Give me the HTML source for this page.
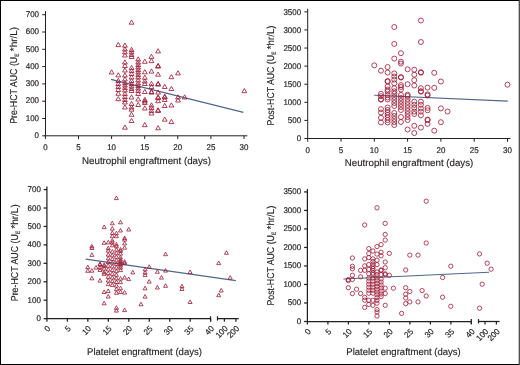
<!DOCTYPE html><html><head><meta charset="utf-8"><style>html,body{margin:0;padding:0;background:#fff;}svg{display:block;will-change:transform;}</style></head><body>
<svg width="520" height="365" viewBox="0 0 520 365">
<rect x="0" y="0" width="520" height="365" fill="#fff"/>
<g stroke="#4f6689" stroke-width="1.1" fill="none">
<line x1="111" y1="79.4" x2="243.4" y2="112.4"/>
<line x1="374.2" y1="95.3" x2="507.8" y2="101.1"/>
<line x1="85.7" y1="259.1" x2="235.8" y2="280.6"/>
<line x1="343.3" y1="279" x2="489" y2="272.3"/>
</g>
<path d="M109.25,74.00L111.65,69.80L114.05,74.00ZM115.88,46.60L118.28,42.40L120.69,46.60ZM115.88,76.90L118.28,72.70L120.69,76.90ZM115.88,82.50L118.28,78.30L120.69,82.50ZM115.88,85.50L118.28,81.30L120.69,85.50ZM115.88,88.50L118.28,84.30L120.69,88.50ZM115.88,91.50L118.28,87.30L120.69,91.50ZM115.88,95.30L118.28,91.10L120.69,95.30ZM115.88,100.70L118.28,96.50L120.69,100.70ZM122.52,47.20L124.92,43.00L127.32,47.20ZM122.52,51.00L124.92,46.80L127.32,51.00ZM122.52,53.80L124.92,49.60L127.32,53.80ZM122.52,57.00L124.92,52.80L127.32,57.00ZM122.52,64.00L124.92,59.80L127.32,64.00ZM122.52,67.50L124.92,63.30L127.32,67.50ZM122.52,72.00L124.92,67.80L127.32,72.00ZM122.52,77.00L124.92,72.80L127.32,77.00ZM122.52,81.00L124.92,76.80L127.32,81.00ZM122.52,84.50L124.92,80.30L127.32,84.50ZM122.52,87.00L124.92,82.80L127.32,87.00ZM122.52,89.50L124.92,85.30L127.32,89.50ZM122.52,92.00L124.92,87.80L127.32,92.00ZM122.52,95.50L124.92,91.30L127.32,95.50ZM122.52,98.50L124.92,94.30L127.32,98.50ZM122.52,101.50L124.92,97.30L127.32,101.50ZM122.52,104.00L124.92,99.80L127.32,104.00ZM122.52,109.00L124.92,104.80L127.32,109.00ZM122.52,129.20L124.92,125.00L127.32,129.20ZM129.16,24.20L131.56,20.00L133.96,24.20ZM129.16,51.50L131.56,47.30L133.96,51.50ZM129.16,53.80L131.56,49.60L133.96,53.80ZM129.16,56.50L131.56,52.30L133.96,56.50ZM129.16,58.50L131.56,54.30L133.96,58.50ZM129.16,69.50L131.56,65.30L133.96,69.50ZM129.16,72.50L131.56,68.30L133.96,72.50ZM129.16,75.50L131.56,71.30L133.96,75.50ZM129.16,79.00L131.56,74.80L133.96,79.00ZM129.16,82.50L131.56,78.30L133.96,82.50ZM129.16,85.50L131.56,81.30L133.96,85.50ZM129.16,88.00L131.56,83.80L133.96,88.00ZM129.16,90.50L131.56,86.30L133.96,90.50ZM129.16,92.50L131.56,88.30L133.96,92.50ZM129.16,99.00L131.56,94.80L133.96,99.00ZM129.16,105.50L131.56,101.30L133.96,105.50ZM129.16,109.00L131.56,104.80L133.96,109.00ZM129.16,111.20L131.56,107.00L133.96,111.20ZM129.16,116.30L131.56,112.10L133.96,116.30ZM129.16,122.50L131.56,118.30L133.96,122.50ZM135.79,61.00L138.19,56.80L140.59,61.00ZM135.79,64.00L138.19,59.80L140.59,64.00ZM135.79,66.50L138.19,62.30L140.59,66.50ZM135.79,69.00L138.19,64.80L140.59,69.00ZM135.79,71.50L138.19,67.30L140.59,71.50ZM135.79,74.00L138.19,69.80L140.59,74.00ZM135.79,76.50L138.19,72.30L140.59,76.50ZM135.79,79.00L138.19,74.80L140.59,79.00ZM135.79,82.00L138.19,77.80L140.59,82.00ZM135.79,85.00L138.19,80.80L140.59,85.00ZM135.79,87.50L138.19,83.30L140.59,87.50ZM135.79,90.00L138.19,85.80L140.59,90.00ZM135.79,92.50L138.19,88.30L140.59,92.50ZM135.79,95.50L138.19,91.30L140.59,95.50ZM135.79,101.00L138.19,96.80L140.59,101.00ZM135.79,106.50L138.19,102.30L140.59,106.50ZM142.42,63.30L144.82,59.10L147.22,63.30ZM142.42,73.80L144.82,69.60L147.22,73.80ZM142.42,79.30L144.82,75.10L147.22,79.30ZM142.42,83.00L144.82,78.80L147.22,83.00ZM142.42,85.50L144.82,81.30L147.22,85.50ZM142.42,93.50L144.82,89.30L147.22,93.50ZM142.42,101.50L144.82,97.30L147.22,101.50ZM142.42,103.00L144.82,98.80L147.22,103.00ZM142.42,104.50L144.82,100.30L147.22,104.50ZM142.42,110.00L144.82,105.80L147.22,110.00ZM142.42,126.70L144.82,122.50L147.22,126.70ZM149.06,58.40L151.46,54.20L153.86,58.40ZM149.06,62.60L151.46,58.40L153.86,62.60ZM149.06,73.10L151.46,68.90L153.86,73.10ZM149.06,85.50L151.46,81.30L153.86,85.50ZM149.06,88.50L151.46,84.30L153.86,88.50ZM149.06,93.50L151.46,89.30L153.86,93.50ZM149.06,94.10L151.46,89.90L153.86,94.10ZM149.06,107.00L151.46,102.80L153.86,107.00ZM149.06,109.50L151.46,105.30L153.86,109.50ZM149.06,112.50L151.46,108.30L153.86,112.50ZM149.06,115.00L151.46,110.80L153.86,115.00ZM155.69,52.90L158.09,48.70L160.50,52.90ZM155.69,67.50L158.09,63.30L160.50,67.50ZM155.69,68.10L158.09,63.90L160.50,68.10ZM155.69,76.20L158.09,72.00L160.50,76.20ZM155.69,85.50L158.09,81.30L160.50,85.50ZM155.69,86.10L158.09,81.90L160.50,86.10ZM155.69,94.10L158.09,89.90L160.50,94.10ZM155.69,99.00L158.09,94.80L160.50,99.00ZM155.69,99.60L158.09,95.40L160.50,99.60ZM155.69,102.70L158.09,98.50L160.50,102.70ZM155.69,111.90L158.09,107.70L160.50,111.90ZM155.69,112.50L158.09,108.30L160.50,112.50ZM155.69,129.80L158.09,125.60L160.50,129.80ZM162.33,88.50L164.73,84.30L167.13,88.50ZM162.33,98.30L164.73,94.10L167.13,98.30ZM162.33,98.90L164.73,94.70L167.13,98.90ZM162.33,101.50L164.73,97.30L167.13,101.50ZM162.33,107.50L164.73,103.30L167.13,107.50ZM162.33,121.20L164.73,117.00L167.13,121.20ZM168.97,78.70L171.37,74.50L173.77,78.70ZM168.97,90.50L171.37,86.30L173.77,90.50ZM168.97,107.00L171.37,102.80L173.77,107.00ZM168.97,123.50L171.37,119.30L173.77,123.50ZM175.60,74.90L178.00,70.70L180.40,74.90ZM175.60,99.00L178.00,94.80L180.40,99.00ZM175.60,102.00L178.00,97.80L180.40,102.00ZM182.23,99.00L184.63,94.80L187.03,99.00ZM241.95,92.70L244.35,88.50L246.75,92.70Z" fill="none" stroke="#9c1b36" stroke-width="0.82" stroke-linejoin="miter"/>
<g fill="none" stroke="#9c1b36" stroke-width="0.82"><circle cx="374.30" cy="65.40" r="2.5"/><circle cx="380.96" cy="70.70" r="2.5"/><circle cx="380.96" cy="93.80" r="2.5"/><circle cx="380.96" cy="96.20" r="2.5"/><circle cx="380.96" cy="99.20" r="2.5"/><circle cx="380.96" cy="99.70" r="2.5"/><circle cx="380.96" cy="109.10" r="2.5"/><circle cx="380.96" cy="112.50" r="2.5"/><circle cx="380.96" cy="117.80" r="2.5"/><circle cx="380.96" cy="122.50" r="2.5"/><circle cx="387.62" cy="67.00" r="2.5"/><circle cx="387.62" cy="72.60" r="2.5"/><circle cx="387.62" cy="81.00" r="2.5"/><circle cx="387.62" cy="81.60" r="2.5"/><circle cx="387.62" cy="86.40" r="2.5"/><circle cx="387.62" cy="89.50" r="2.5"/><circle cx="387.62" cy="91.50" r="2.5"/><circle cx="387.62" cy="95.00" r="2.5"/><circle cx="387.62" cy="97.50" r="2.5"/><circle cx="387.62" cy="99.50" r="2.5"/><circle cx="387.62" cy="107.50" r="2.5"/><circle cx="387.62" cy="110.00" r="2.5"/><circle cx="387.62" cy="112.50" r="2.5"/><circle cx="387.62" cy="115.00" r="2.5"/><circle cx="387.62" cy="117.50" r="2.5"/><circle cx="387.62" cy="120.00" r="2.5"/><circle cx="387.62" cy="122.50" r="2.5"/><circle cx="394.28" cy="27.00" r="2.5"/><circle cx="394.28" cy="43.90" r="2.5"/><circle cx="394.28" cy="58.60" r="2.5"/><circle cx="394.28" cy="73.40" r="2.5"/><circle cx="394.28" cy="76.50" r="2.5"/><circle cx="394.28" cy="79.60" r="2.5"/><circle cx="394.28" cy="83.30" r="2.5"/><circle cx="394.28" cy="88.20" r="2.5"/><circle cx="394.28" cy="91.30" r="2.5"/><circle cx="394.28" cy="93.80" r="2.5"/><circle cx="394.28" cy="97.00" r="2.5"/><circle cx="394.28" cy="100.00" r="2.5"/><circle cx="394.28" cy="103.00" r="2.5"/><circle cx="394.28" cy="106.00" r="2.5"/><circle cx="394.28" cy="113.00" r="2.5"/><circle cx="394.28" cy="116.00" r="2.5"/><circle cx="394.28" cy="119.00" r="2.5"/><circle cx="394.28" cy="122.00" r="2.5"/><circle cx="394.28" cy="125.00" r="2.5"/><circle cx="400.94" cy="53.20" r="2.5"/><circle cx="400.94" cy="61.70" r="2.5"/><circle cx="400.94" cy="63.60" r="2.5"/><circle cx="400.94" cy="77.10" r="2.5"/><circle cx="400.94" cy="77.60" r="2.5"/><circle cx="400.94" cy="85.10" r="2.5"/><circle cx="400.94" cy="87.00" r="2.5"/><circle cx="400.94" cy="89.50" r="2.5"/><circle cx="400.94" cy="95.00" r="2.5"/><circle cx="400.94" cy="98.00" r="2.5"/><circle cx="400.94" cy="101.00" r="2.5"/><circle cx="400.94" cy="104.00" r="2.5"/><circle cx="400.94" cy="107.00" r="2.5"/><circle cx="400.94" cy="110.00" r="2.5"/><circle cx="400.94" cy="117.00" r="2.5"/><circle cx="400.94" cy="122.00" r="2.5"/><circle cx="407.60" cy="69.30" r="2.5"/><circle cx="407.60" cy="84.20" r="2.5"/><circle cx="407.60" cy="94.70" r="2.5"/><circle cx="407.60" cy="96.00" r="2.5"/><circle cx="407.60" cy="99.00" r="2.5"/><circle cx="407.60" cy="102.00" r="2.5"/><circle cx="407.60" cy="105.00" r="2.5"/><circle cx="407.60" cy="108.00" r="2.5"/><circle cx="407.60" cy="111.00" r="2.5"/><circle cx="407.60" cy="114.00" r="2.5"/><circle cx="407.60" cy="117.00" r="2.5"/><circle cx="407.60" cy="120.00" r="2.5"/><circle cx="407.60" cy="129.50" r="2.5"/><circle cx="414.26" cy="69.70" r="2.5"/><circle cx="414.26" cy="74.70" r="2.5"/><circle cx="414.26" cy="80.20" r="2.5"/><circle cx="414.26" cy="85.50" r="2.5"/><circle cx="414.26" cy="101.70" r="2.5"/><circle cx="414.26" cy="104.80" r="2.5"/><circle cx="414.26" cy="107.90" r="2.5"/><circle cx="414.26" cy="111.60" r="2.5"/><circle cx="414.26" cy="114.00" r="2.5"/><circle cx="414.26" cy="125.80" r="2.5"/><circle cx="414.26" cy="133.00" r="2.5"/><circle cx="420.92" cy="20.50" r="2.5"/><circle cx="420.92" cy="42.00" r="2.5"/><circle cx="420.92" cy="72.20" r="2.5"/><circle cx="420.92" cy="72.70" r="2.5"/><circle cx="420.92" cy="88.20" r="2.5"/><circle cx="420.92" cy="91.20" r="2.5"/><circle cx="420.92" cy="91.70" r="2.5"/><circle cx="420.92" cy="101.70" r="2.5"/><circle cx="420.92" cy="104.80" r="2.5"/><circle cx="420.92" cy="108.50" r="2.5"/><circle cx="420.92" cy="111.60" r="2.5"/><circle cx="420.92" cy="115.30" r="2.5"/><circle cx="420.92" cy="127.60" r="2.5"/><circle cx="427.58" cy="87.60" r="2.5"/><circle cx="427.58" cy="94.40" r="2.5"/><circle cx="427.58" cy="95.50" r="2.5"/><circle cx="427.58" cy="107.90" r="2.5"/><circle cx="427.58" cy="110.30" r="2.5"/><circle cx="427.58" cy="119.60" r="2.5"/><circle cx="427.58" cy="120.10" r="2.5"/><circle cx="427.58" cy="123.90" r="2.5"/><circle cx="434.24" cy="72.80" r="2.5"/><circle cx="434.24" cy="87.80" r="2.5"/><circle cx="434.24" cy="130.70" r="2.5"/><circle cx="440.90" cy="81.50" r="2.5"/><circle cx="440.90" cy="108.40" r="2.5"/><circle cx="440.90" cy="122.20" r="2.5"/><circle cx="447.56" cy="111.50" r="2.5"/><circle cx="507.50" cy="84.70" r="2.5"/></g>
<path d="M85.75,268.60L87.75,265.00L89.75,268.60ZM85.75,272.30L87.75,268.70L89.75,272.30ZM89.84,247.90L91.84,244.30L93.84,247.90ZM89.84,249.50L91.84,245.90L93.84,249.50ZM89.84,256.40L91.84,252.80L93.84,256.40ZM89.84,272.20L91.84,268.60L93.84,272.20ZM89.84,279.80L91.84,276.20L93.84,279.80ZM93.94,269.10L95.94,265.50L97.94,269.10ZM98.03,265.50L100.03,261.90L102.03,265.50ZM98.03,266.10L100.03,262.50L102.03,266.10ZM98.03,269.10L100.03,265.50L102.03,269.10ZM98.03,271.50L100.03,267.90L102.03,271.50ZM98.03,282.10L100.03,278.50L102.03,282.10ZM102.13,228.60L104.13,225.00L106.13,228.60ZM102.13,244.30L104.13,240.70L106.13,244.30ZM102.13,266.40L104.13,262.80L106.13,266.40ZM102.13,267.70L104.13,264.10L106.13,267.70ZM102.13,270.10L104.13,266.50L106.13,270.10ZM102.13,273.70L104.13,270.10L106.13,273.70ZM102.13,275.40L104.13,271.80L106.13,275.40ZM102.13,293.50L104.13,289.90L106.13,293.50ZM102.13,304.80L104.13,301.20L106.13,304.80ZM106.22,243.90L108.22,240.30L110.22,243.90ZM106.22,249.70L108.22,246.10L110.22,249.70ZM106.22,252.10L108.22,248.50L110.22,252.10ZM106.22,256.10L108.22,252.50L110.22,256.10ZM106.22,259.80L108.22,256.20L110.22,259.80ZM106.22,263.50L108.22,259.90L110.22,263.50ZM106.22,267.20L108.22,263.60L110.22,267.20ZM106.22,270.90L108.22,267.30L110.22,270.90ZM106.22,274.60L108.22,271.00L110.22,274.60ZM106.22,278.30L108.22,274.70L110.22,278.30ZM106.22,282.00L108.22,278.40L110.22,282.00ZM106.22,285.70L108.22,282.10L110.22,285.70ZM106.22,292.60L108.22,289.00L110.22,292.60ZM106.22,298.00L108.22,294.40L110.22,298.00ZM110.32,224.80L112.32,221.20L114.32,224.80ZM110.32,230.10L112.32,226.50L114.32,230.10ZM110.32,234.40L112.32,230.80L114.32,234.40ZM110.32,237.70L112.32,234.10L114.32,237.70ZM110.32,242.10L112.32,238.50L114.32,242.10ZM110.32,244.10L112.32,240.50L114.32,244.10ZM110.32,246.80L112.32,243.20L114.32,246.80ZM110.32,253.10L112.32,249.50L114.32,253.10ZM110.32,256.80L112.32,253.20L114.32,256.80ZM110.32,260.50L112.32,256.90L114.32,260.50ZM110.32,264.20L112.32,260.60L114.32,264.20ZM110.32,267.90L112.32,264.30L114.32,267.90ZM110.32,271.60L112.32,268.00L114.32,271.60ZM110.32,275.30L112.32,271.70L114.32,275.30ZM110.32,279.00L112.32,275.40L114.32,279.00ZM110.32,282.70L112.32,279.10L114.32,282.70ZM110.32,286.40L112.32,282.80L114.32,286.40ZM114.41,199.60L116.41,196.00L118.41,199.60ZM114.41,234.80L116.41,231.20L118.41,234.80ZM114.41,237.70L116.41,234.10L118.41,237.70ZM114.41,245.90L116.41,242.30L118.41,245.90ZM114.41,247.80L116.41,244.20L118.41,247.80ZM114.41,251.10L116.41,247.50L118.41,251.10ZM114.41,254.70L116.41,251.10L118.41,254.70ZM114.41,258.30L116.41,254.70L118.41,258.30ZM114.41,261.90L116.41,258.30L118.41,261.90ZM114.41,265.50L116.41,261.90L118.41,265.50ZM114.41,269.10L116.41,265.50L118.41,269.10ZM114.41,272.70L116.41,269.10L118.41,272.70ZM114.41,276.30L116.41,272.70L118.41,276.30ZM114.41,279.90L116.41,276.30L118.41,279.90ZM114.41,283.50L116.41,279.90L118.41,283.50ZM114.41,287.10L116.41,283.50L118.41,287.10ZM114.41,290.70L116.41,287.10L118.41,290.70ZM114.41,294.30L116.41,290.70L118.41,294.30ZM114.41,309.30L116.41,305.70L118.41,309.30ZM114.41,312.10L116.41,308.50L118.41,312.10ZM118.51,223.80L120.51,220.20L122.51,223.80ZM118.51,232.00L120.51,228.40L122.51,232.00ZM118.51,251.10L120.51,247.50L122.51,251.10ZM118.51,252.40L120.51,248.80L122.51,252.40ZM118.51,255.10L120.51,251.50L122.51,255.10ZM118.51,258.90L120.51,255.30L122.51,258.90ZM118.51,261.10L120.51,257.50L122.51,261.10ZM118.51,262.60L120.51,259.00L122.51,262.60ZM118.51,264.10L120.51,260.50L122.51,264.10ZM118.51,265.60L120.51,262.00L122.51,265.60ZM118.51,267.10L120.51,263.50L122.51,267.10ZM118.51,269.10L120.51,265.50L122.51,269.10ZM118.51,271.60L120.51,268.00L122.51,271.60ZM118.51,280.10L120.51,276.50L122.51,280.10ZM118.51,283.70L120.51,280.10L122.51,283.70ZM118.51,289.70L120.51,286.10L122.51,289.70ZM118.51,293.50L120.51,289.90L122.51,293.50ZM122.60,239.60L124.60,236.00L126.60,239.60ZM122.60,241.10L124.60,237.50L126.60,241.10ZM122.60,244.90L124.60,241.30L126.60,244.90ZM122.60,249.20L124.60,245.60L126.60,249.20ZM122.60,263.30L124.60,259.70L126.60,263.30ZM122.60,264.70L124.60,261.10L126.60,264.70ZM122.60,279.10L124.60,275.50L126.60,279.10ZM122.60,294.10L124.60,290.50L126.60,294.10ZM122.60,311.60L124.60,308.00L126.60,311.60ZM126.70,231.00L128.70,227.40L130.70,231.00ZM126.70,280.60L128.70,277.00L130.70,280.60ZM130.79,273.90L132.79,270.30L134.79,273.90ZM138.98,305.80L140.98,302.20L142.98,305.80ZM143.08,270.90L145.08,267.30L147.08,270.90ZM143.08,274.10L145.08,270.50L147.08,274.10ZM143.08,276.60L145.08,273.00L147.08,276.60ZM143.08,289.80L145.08,286.20L147.08,289.80ZM143.08,298.10L145.08,294.50L147.08,298.10ZM147.18,268.40L149.18,264.80L151.18,268.40ZM147.18,283.10L149.18,279.50L151.18,283.10ZM155.37,273.30L157.37,269.70L159.37,273.30ZM155.37,289.00L157.37,285.40L159.37,289.00ZM159.46,279.10L161.46,275.50L163.46,279.10ZM163.56,255.70L165.56,252.10L167.56,255.70ZM163.56,272.10L165.56,268.50L167.56,272.10ZM163.56,287.30L165.56,283.70L167.56,287.30ZM179.94,287.80L181.94,284.20L183.94,287.80ZM179.94,290.50L181.94,286.90L183.94,290.50ZM188.12,273.60L190.12,270.00L192.12,273.60ZM188.12,303.50L190.12,299.90L192.12,303.50ZM224.40,254.30L226.40,250.70L228.40,254.30ZM216.70,264.60L218.70,261.00L220.70,264.60ZM228.20,279.20L230.20,275.60L232.20,279.20ZM219.20,292.00L221.20,288.40L223.20,292.00ZM216.70,296.70L218.70,293.10L220.70,296.70Z" fill="none" stroke="#9c1b36" stroke-width="0.8" stroke-linejoin="miter"/>
<g fill="none" stroke="#9c1b36" stroke-width="0.8"><circle cx="348.30" cy="279.50" r="2.15"/><circle cx="348.30" cy="280.60" r="2.15"/><circle cx="348.30" cy="287.70" r="2.15"/><circle cx="352.40" cy="258.00" r="2.15"/><circle cx="352.40" cy="266.30" r="2.15"/><circle cx="352.40" cy="268.80" r="2.15"/><circle cx="352.40" cy="275.30" r="2.15"/><circle cx="352.40" cy="279.50" r="2.15"/><circle cx="352.40" cy="293.60" r="2.15"/><circle cx="356.50" cy="289.20" r="2.15"/><circle cx="360.60" cy="270.40" r="2.15"/><circle cx="360.60" cy="276.80" r="2.15"/><circle cx="360.60" cy="293.50" r="2.15"/><circle cx="364.70" cy="225.00" r="2.15"/><circle cx="364.70" cy="258.90" r="2.15"/><circle cx="364.70" cy="265.90" r="2.15"/><circle cx="364.70" cy="270.30" r="2.15"/><circle cx="364.70" cy="297.40" r="2.15"/><circle cx="364.70" cy="300.20" r="2.15"/><circle cx="364.70" cy="307.40" r="2.15"/><circle cx="368.80" cy="248.60" r="2.15"/><circle cx="368.80" cy="253.60" r="2.15"/><circle cx="368.80" cy="257.60" r="2.15"/><circle cx="368.80" cy="264.60" r="2.15"/><circle cx="368.80" cy="269.40" r="2.15"/><circle cx="368.80" cy="273.80" r="2.15"/><circle cx="368.80" cy="278.10" r="2.15"/><circle cx="368.80" cy="281.20" r="2.15"/><circle cx="368.80" cy="284.20" r="2.15"/><circle cx="368.80" cy="287.20" r="2.15"/><circle cx="368.80" cy="290.20" r="2.15"/><circle cx="368.80" cy="293.20" r="2.15"/><circle cx="368.80" cy="300.30" r="2.15"/><circle cx="368.80" cy="304.40" r="2.15"/><circle cx="372.90" cy="251.00" r="2.15"/><circle cx="372.90" cy="258.90" r="2.15"/><circle cx="372.90" cy="261.50" r="2.15"/><circle cx="372.90" cy="264.20" r="2.15"/><circle cx="372.90" cy="266.80" r="2.15"/><circle cx="372.90" cy="268.50" r="2.15"/><circle cx="372.90" cy="270.30" r="2.15"/><circle cx="372.90" cy="273.00" r="2.15"/><circle cx="372.90" cy="274.60" r="2.15"/><circle cx="372.90" cy="278.10" r="2.15"/><circle cx="372.90" cy="281.20" r="2.15"/><circle cx="372.90" cy="284.20" r="2.15"/><circle cx="372.90" cy="287.20" r="2.15"/><circle cx="372.90" cy="290.20" r="2.15"/><circle cx="372.90" cy="293.20" r="2.15"/><circle cx="372.90" cy="300.30" r="2.15"/><circle cx="372.90" cy="305.30" r="2.15"/><circle cx="377.00" cy="207.80" r="2.15"/><circle cx="377.00" cy="246.60" r="2.15"/><circle cx="377.00" cy="254.10" r="2.15"/><circle cx="377.00" cy="260.20" r="2.15"/><circle cx="377.00" cy="264.60" r="2.15"/><circle cx="377.00" cy="272.00" r="2.15"/><circle cx="377.00" cy="274.60" r="2.15"/><circle cx="377.00" cy="278.00" r="2.15"/><circle cx="377.00" cy="280.80" r="2.15"/><circle cx="377.00" cy="283.60" r="2.15"/><circle cx="377.00" cy="286.40" r="2.15"/><circle cx="377.00" cy="289.20" r="2.15"/><circle cx="377.00" cy="292.00" r="2.15"/><circle cx="377.00" cy="294.80" r="2.15"/><circle cx="377.00" cy="297.60" r="2.15"/><circle cx="377.00" cy="300.40" r="2.15"/><circle cx="377.00" cy="303.20" r="2.15"/><circle cx="377.00" cy="309.60" r="2.15"/><circle cx="377.00" cy="312.00" r="2.15"/><circle cx="377.00" cy="316.00" r="2.15"/><circle cx="381.10" cy="244.60" r="2.15"/><circle cx="381.10" cy="252.30" r="2.15"/><circle cx="381.10" cy="255.80" r="2.15"/><circle cx="381.10" cy="269.90" r="2.15"/><circle cx="381.10" cy="270.50" r="2.15"/><circle cx="381.10" cy="274.60" r="2.15"/><circle cx="381.10" cy="279.00" r="2.15"/><circle cx="381.10" cy="282.00" r="2.15"/><circle cx="381.10" cy="285.00" r="2.15"/><circle cx="381.10" cy="288.00" r="2.15"/><circle cx="381.10" cy="291.00" r="2.15"/><circle cx="381.10" cy="294.00" r="2.15"/><circle cx="381.10" cy="296.60" r="2.15"/><circle cx="385.20" cy="223.40" r="2.15"/><circle cx="385.20" cy="234.40" r="2.15"/><circle cx="385.20" cy="240.10" r="2.15"/><circle cx="385.20" cy="262.00" r="2.15"/><circle cx="385.20" cy="267.70" r="2.15"/><circle cx="385.20" cy="273.80" r="2.15"/><circle cx="385.20" cy="274.60" r="2.15"/><circle cx="385.20" cy="288.20" r="2.15"/><circle cx="385.20" cy="293.50" r="2.15"/><circle cx="385.20" cy="305.30" r="2.15"/><circle cx="389.30" cy="253.40" r="2.15"/><circle cx="389.30" cy="275.30" r="2.15"/><circle cx="393.40" cy="288.20" r="2.15"/><circle cx="401.60" cy="313.40" r="2.15"/><circle cx="405.70" cy="270.00" r="2.15"/><circle cx="405.70" cy="287.70" r="2.15"/><circle cx="405.70" cy="294.20" r="2.15"/><circle cx="405.70" cy="298.00" r="2.15"/><circle cx="405.70" cy="303.60" r="2.15"/><circle cx="409.80" cy="255.10" r="2.15"/><circle cx="409.80" cy="291.50" r="2.15"/><circle cx="409.80" cy="301.90" r="2.15"/><circle cx="418.00" cy="255.10" r="2.15"/><circle cx="418.00" cy="301.90" r="2.15"/><circle cx="422.10" cy="290.60" r="2.15"/><circle cx="426.20" cy="201.20" r="2.15"/><circle cx="426.20" cy="243.00" r="2.15"/><circle cx="426.20" cy="296.00" r="2.15"/><circle cx="442.60" cy="277.50" r="2.15"/><circle cx="442.60" cy="297.20" r="2.15"/><circle cx="450.80" cy="266.20" r="2.15"/><circle cx="450.80" cy="306.30" r="2.15"/><circle cx="479.50" cy="253.90" r="2.15"/><circle cx="487.20" cy="263.20" r="2.15"/><circle cx="491.10" cy="269.20" r="2.15"/><circle cx="482.20" cy="284.20" r="2.15"/><circle cx="479.60" cy="308.20" r="2.15"/></g>
<g font-family="Liberation Sans" font-size="8.3" fill="#231f20" text-rendering="geometricPrecision" stroke="#231f20" stroke-width="0.18">
<line x1="45.5" y1="11.2" x2="45.5" y2="136.3" stroke="#231f20" stroke-width="1.0"/><line x1="42.2" y1="135.80" x2="45.5" y2="135.80" stroke="#231f20" stroke-width="1.0"/><text x="39.0" y="138.05" text-anchor="end" textLength="4.43" lengthAdjust="spacingAndGlyphs">0</text><line x1="42.2" y1="118.50" x2="45.5" y2="118.50" stroke="#231f20" stroke-width="1.0"/><text x="39.0" y="120.75" text-anchor="end" textLength="13.29" lengthAdjust="spacingAndGlyphs">100</text><line x1="42.2" y1="101.20" x2="45.5" y2="101.20" stroke="#231f20" stroke-width="1.0"/><text x="39.0" y="103.45" text-anchor="end" textLength="13.29" lengthAdjust="spacingAndGlyphs">200</text><line x1="42.2" y1="83.90" x2="45.5" y2="83.90" stroke="#231f20" stroke-width="1.0"/><text x="39.0" y="86.15" text-anchor="end" textLength="13.29" lengthAdjust="spacingAndGlyphs">300</text><line x1="42.2" y1="66.60" x2="45.5" y2="66.60" stroke="#231f20" stroke-width="1.0"/><text x="39.0" y="68.85" text-anchor="end" textLength="13.29" lengthAdjust="spacingAndGlyphs">400</text><line x1="42.2" y1="49.30" x2="45.5" y2="49.30" stroke="#231f20" stroke-width="1.0"/><text x="39.0" y="51.55" text-anchor="end" textLength="13.29" lengthAdjust="spacingAndGlyphs">500</text><line x1="42.2" y1="32.00" x2="45.5" y2="32.00" stroke="#231f20" stroke-width="1.0"/><text x="39.0" y="34.25" text-anchor="end" textLength="13.29" lengthAdjust="spacingAndGlyphs">600</text><line x1="42.2" y1="14.70" x2="45.5" y2="14.70" stroke="#231f20" stroke-width="1.0"/><text x="39.0" y="16.95" text-anchor="end" textLength="13.29" lengthAdjust="spacingAndGlyphs">700</text>
<line x1="44.9" y1="135.8" x2="247.3" y2="135.8" stroke="#231f20" stroke-width="1"/><line x1="45.40" y1="135.8" x2="45.40" y2="139.0" stroke="#231f20" stroke-width="1"/><text x="45.40" y="149.95" text-anchor="middle" textLength="4.43" lengthAdjust="spacingAndGlyphs">0</text><line x1="78.50" y1="135.8" x2="78.50" y2="139.0" stroke="#231f20" stroke-width="1"/><text x="78.50" y="149.95" text-anchor="middle" textLength="4.43" lengthAdjust="spacingAndGlyphs">5</text><line x1="111.60" y1="135.8" x2="111.60" y2="139.0" stroke="#231f20" stroke-width="1"/><text x="111.60" y="149.95" text-anchor="middle" textLength="8.86" lengthAdjust="spacingAndGlyphs">10</text><line x1="144.70" y1="135.8" x2="144.70" y2="139.0" stroke="#231f20" stroke-width="1"/><text x="144.70" y="149.95" text-anchor="middle" textLength="8.86" lengthAdjust="spacingAndGlyphs">15</text><line x1="177.80" y1="135.8" x2="177.80" y2="139.0" stroke="#231f20" stroke-width="1"/><text x="177.80" y="149.95" text-anchor="middle" textLength="8.86" lengthAdjust="spacingAndGlyphs">20</text><line x1="210.90" y1="135.8" x2="210.90" y2="139.0" stroke="#231f20" stroke-width="1"/><text x="210.90" y="149.95" text-anchor="middle" textLength="8.86" lengthAdjust="spacingAndGlyphs">25</text><line x1="244.00" y1="135.8" x2="244.00" y2="139.0" stroke="#231f20" stroke-width="1"/><text x="244.00" y="149.95" text-anchor="middle" textLength="8.86" lengthAdjust="spacingAndGlyphs">30</text>
<line x1="307.7" y1="8.7" x2="307.7" y2="139.0" stroke="#231f20" stroke-width="1.0"/><line x1="304.4" y1="138.50" x2="307.7" y2="138.50" stroke="#231f20" stroke-width="1.0"/><text x="301.1" y="141.20" text-anchor="end" textLength="4.43" lengthAdjust="spacingAndGlyphs">0</text><line x1="304.4" y1="120.41" x2="307.7" y2="120.41" stroke="#231f20" stroke-width="1.0"/><text x="301.1" y="123.11" text-anchor="end" textLength="13.29" lengthAdjust="spacingAndGlyphs">500</text><line x1="304.4" y1="102.32" x2="307.7" y2="102.32" stroke="#231f20" stroke-width="1.0"/><text x="301.1" y="105.02" text-anchor="end" textLength="17.72" lengthAdjust="spacingAndGlyphs">1000</text><line x1="304.4" y1="84.23" x2="307.7" y2="84.23" stroke="#231f20" stroke-width="1.0"/><text x="301.1" y="86.93" text-anchor="end" textLength="17.72" lengthAdjust="spacingAndGlyphs">1500</text><line x1="304.4" y1="66.14" x2="307.7" y2="66.14" stroke="#231f20" stroke-width="1.0"/><text x="301.1" y="68.84" text-anchor="end" textLength="17.72" lengthAdjust="spacingAndGlyphs">2000</text><line x1="304.4" y1="48.05" x2="307.7" y2="48.05" stroke="#231f20" stroke-width="1.0"/><text x="301.1" y="50.75" text-anchor="end" textLength="17.72" lengthAdjust="spacingAndGlyphs">2500</text><line x1="304.4" y1="29.96" x2="307.7" y2="29.96" stroke="#231f20" stroke-width="1.0"/><text x="301.1" y="32.66" text-anchor="end" textLength="17.72" lengthAdjust="spacingAndGlyphs">3000</text><line x1="304.4" y1="11.87" x2="307.7" y2="11.87" stroke="#231f20" stroke-width="1.0"/><text x="301.1" y="14.57" text-anchor="end" textLength="17.72" lengthAdjust="spacingAndGlyphs">3500</text>
<line x1="307.2" y1="138.5" x2="510.5" y2="138.5" stroke="#231f20" stroke-width="1"/><line x1="307.70" y1="138.5" x2="307.70" y2="141.7" stroke="#231f20" stroke-width="1"/><text x="307.70" y="152.55" text-anchor="middle" textLength="4.43" lengthAdjust="spacingAndGlyphs">0</text><line x1="341.00" y1="138.5" x2="341.00" y2="141.7" stroke="#231f20" stroke-width="1"/><text x="341.00" y="152.55" text-anchor="middle" textLength="4.43" lengthAdjust="spacingAndGlyphs">5</text><line x1="374.30" y1="138.5" x2="374.30" y2="141.7" stroke="#231f20" stroke-width="1"/><text x="374.30" y="152.55" text-anchor="middle" textLength="8.86" lengthAdjust="spacingAndGlyphs">10</text><line x1="407.60" y1="138.5" x2="407.60" y2="141.7" stroke="#231f20" stroke-width="1"/><text x="407.60" y="152.55" text-anchor="middle" textLength="8.86" lengthAdjust="spacingAndGlyphs">15</text><line x1="440.90" y1="138.5" x2="440.90" y2="141.7" stroke="#231f20" stroke-width="1"/><text x="440.90" y="152.55" text-anchor="middle" textLength="8.86" lengthAdjust="spacingAndGlyphs">20</text><line x1="474.20" y1="138.5" x2="474.20" y2="141.7" stroke="#231f20" stroke-width="1"/><text x="474.20" y="152.55" text-anchor="middle" textLength="8.86" lengthAdjust="spacingAndGlyphs">25</text><line x1="507.50" y1="138.5" x2="507.50" y2="141.7" stroke="#231f20" stroke-width="1"/><text x="507.50" y="152.55" text-anchor="middle" textLength="8.86" lengthAdjust="spacingAndGlyphs">30</text>
<line x1="46.9" y1="186.5" x2="46.9" y2="319.15" stroke="#231f20" stroke-width="1.25"/><line x1="43.6" y1="318.65" x2="46.9" y2="318.65" stroke="#231f20" stroke-width="1.25"/><text x="40.9" y="321.25" text-anchor="end" textLength="4.43" lengthAdjust="spacingAndGlyphs">0</text><line x1="43.6" y1="300.21" x2="46.9" y2="300.21" stroke="#231f20" stroke-width="1.25"/><text x="40.9" y="302.81" text-anchor="end" textLength="13.29" lengthAdjust="spacingAndGlyphs">100</text><line x1="43.6" y1="281.77" x2="46.9" y2="281.77" stroke="#231f20" stroke-width="1.25"/><text x="40.9" y="284.37" text-anchor="end" textLength="13.29" lengthAdjust="spacingAndGlyphs">200</text><line x1="43.6" y1="263.33" x2="46.9" y2="263.33" stroke="#231f20" stroke-width="1.25"/><text x="40.9" y="265.93" text-anchor="end" textLength="13.29" lengthAdjust="spacingAndGlyphs">300</text><line x1="43.6" y1="244.89" x2="46.9" y2="244.89" stroke="#231f20" stroke-width="1.25"/><text x="40.9" y="247.49" text-anchor="end" textLength="13.29" lengthAdjust="spacingAndGlyphs">400</text><line x1="43.6" y1="226.45" x2="46.9" y2="226.45" stroke="#231f20" stroke-width="1.25"/><text x="40.9" y="229.05" text-anchor="end" textLength="13.29" lengthAdjust="spacingAndGlyphs">500</text><line x1="43.6" y1="208.01" x2="46.9" y2="208.01" stroke="#231f20" stroke-width="1.25"/><text x="40.9" y="210.61" text-anchor="end" textLength="13.29" lengthAdjust="spacingAndGlyphs">600</text><line x1="43.6" y1="189.57" x2="46.9" y2="189.57" stroke="#231f20" stroke-width="1.25"/><text x="40.9" y="192.17" text-anchor="end" textLength="13.29" lengthAdjust="spacingAndGlyphs">700</text>
<line x1="307.4" y1="189.0" x2="307.4" y2="322.0" stroke="#231f20" stroke-width="1.25"/><line x1="304.09999999999997" y1="321.50" x2="307.4" y2="321.50" stroke="#231f20" stroke-width="1.25"/><text x="301.1" y="324.00" text-anchor="end" textLength="4.43" lengthAdjust="spacingAndGlyphs">0</text><line x1="304.09999999999997" y1="302.99" x2="307.4" y2="302.99" stroke="#231f20" stroke-width="1.25"/><text x="301.1" y="305.49" text-anchor="end" textLength="13.29" lengthAdjust="spacingAndGlyphs">500</text><line x1="304.09999999999997" y1="284.48" x2="307.4" y2="284.48" stroke="#231f20" stroke-width="1.25"/><text x="301.1" y="286.98" text-anchor="end" textLength="17.72" lengthAdjust="spacingAndGlyphs">1000</text><line x1="304.09999999999997" y1="265.97" x2="307.4" y2="265.97" stroke="#231f20" stroke-width="1.25"/><text x="301.1" y="268.47" text-anchor="end" textLength="17.72" lengthAdjust="spacingAndGlyphs">1500</text><line x1="304.09999999999997" y1="247.46" x2="307.4" y2="247.46" stroke="#231f20" stroke-width="1.25"/><text x="301.1" y="249.96" text-anchor="end" textLength="17.72" lengthAdjust="spacingAndGlyphs">2000</text><line x1="304.09999999999997" y1="228.95" x2="307.4" y2="228.95" stroke="#231f20" stroke-width="1.25"/><text x="301.1" y="231.45" text-anchor="end" textLength="17.72" lengthAdjust="spacingAndGlyphs">2500</text><line x1="304.09999999999997" y1="210.44" x2="307.4" y2="210.44" stroke="#231f20" stroke-width="1.25"/><text x="301.1" y="212.94" text-anchor="end" textLength="17.72" lengthAdjust="spacingAndGlyphs">3000</text><line x1="304.09999999999997" y1="191.93" x2="307.4" y2="191.93" stroke="#231f20" stroke-width="1.25"/><text x="301.1" y="194.43" text-anchor="end" textLength="17.72" lengthAdjust="spacingAndGlyphs">3500</text>
<line x1="46.4" y1="318.65" x2="211.0" y2="318.65" stroke="#231f20" stroke-width="1.25"/><line x1="210.5" y1="316.25" x2="210.5" y2="320.54999999999995" stroke="#231f20" stroke-width="1.25"/><line x1="217.0" y1="318.65" x2="238.7" y2="318.65" stroke="#231f20" stroke-width="1.25"/><line x1="217.5" y1="316.25" x2="217.5" y2="320.54999999999995" stroke="#231f20" stroke-width="1.25"/><line x1="46.90" y1="318.65" x2="46.90" y2="321.65" stroke="#231f20" stroke-width="1.25"/><text x="50.80" y="329.15" text-anchor="end" textLength="4.43" lengthAdjust="spacingAndGlyphs" transform="rotate(-45 50.80 329.15)">0</text><line x1="67.38" y1="318.65" x2="67.38" y2="321.65" stroke="#231f20" stroke-width="1.25"/><text x="71.28" y="329.15" text-anchor="end" textLength="4.43" lengthAdjust="spacingAndGlyphs" transform="rotate(-45 71.28 329.15)">5</text><line x1="87.85" y1="318.65" x2="87.85" y2="321.65" stroke="#231f20" stroke-width="1.25"/><text x="91.75" y="329.15" text-anchor="end" textLength="8.86" lengthAdjust="spacingAndGlyphs" transform="rotate(-45 91.75 329.15)">10</text><line x1="108.33" y1="318.65" x2="108.33" y2="321.65" stroke="#231f20" stroke-width="1.25"/><text x="112.23" y="329.15" text-anchor="end" textLength="8.86" lengthAdjust="spacingAndGlyphs" transform="rotate(-45 112.23 329.15)">15</text><line x1="128.80" y1="318.65" x2="128.80" y2="321.65" stroke="#231f20" stroke-width="1.25"/><text x="132.70" y="329.15" text-anchor="end" textLength="8.86" lengthAdjust="spacingAndGlyphs" transform="rotate(-45 132.70 329.15)">20</text><line x1="149.28" y1="318.65" x2="149.28" y2="321.65" stroke="#231f20" stroke-width="1.25"/><text x="153.18" y="329.15" text-anchor="end" textLength="8.86" lengthAdjust="spacingAndGlyphs" transform="rotate(-45 153.18 329.15)">25</text><line x1="169.75" y1="318.65" x2="169.75" y2="321.65" stroke="#231f20" stroke-width="1.25"/><text x="173.65" y="329.15" text-anchor="end" textLength="8.86" lengthAdjust="spacingAndGlyphs" transform="rotate(-45 173.65 329.15)">30</text><line x1="190.23" y1="318.65" x2="190.23" y2="321.65" stroke="#231f20" stroke-width="1.25"/><text x="194.13" y="329.15" text-anchor="end" textLength="8.86" lengthAdjust="spacingAndGlyphs" transform="rotate(-45 194.13 329.15)">35</text><line x1="210.70" y1="318.65" x2="210.70" y2="321.65" stroke="#231f20" stroke-width="1.25"/><text x="214.60" y="329.15" text-anchor="end" textLength="8.86" lengthAdjust="spacingAndGlyphs" transform="rotate(-45 214.60 329.15)">40</text><line x1="224.40" y1="318.65" x2="224.40" y2="321.65" stroke="#231f20" stroke-width="1.25"/><text x="228.30" y="329.15" text-anchor="end" textLength="13.29" lengthAdjust="spacingAndGlyphs" transform="rotate(-45 228.30 329.15)">100</text><line x1="235.90" y1="318.65" x2="235.90" y2="321.65" stroke="#231f20" stroke-width="1.25"/><text x="239.80" y="329.15" text-anchor="end" textLength="13.29" lengthAdjust="spacingAndGlyphs" transform="rotate(-45 239.80 329.15)">200</text>
<line x1="306.9" y1="321.5" x2="471.8" y2="321.5" stroke="#231f20" stroke-width="1.25"/><line x1="471.3" y1="319.1" x2="471.3" y2="323.4" stroke="#231f20" stroke-width="1.25"/><line x1="478.0" y1="321.5" x2="499.6" y2="321.5" stroke="#231f20" stroke-width="1.25"/><line x1="478.5" y1="319.1" x2="478.5" y2="323.4" stroke="#231f20" stroke-width="1.25"/><line x1="307.40" y1="321.5" x2="307.40" y2="324.5" stroke="#231f20" stroke-width="1.25"/><text x="311.30" y="332.00" text-anchor="end" textLength="4.43" lengthAdjust="spacingAndGlyphs" transform="rotate(-45 311.30 332.00)">0</text><line x1="327.90" y1="321.5" x2="327.90" y2="324.5" stroke="#231f20" stroke-width="1.25"/><text x="331.80" y="332.00" text-anchor="end" textLength="4.43" lengthAdjust="spacingAndGlyphs" transform="rotate(-45 331.80 332.00)">5</text><line x1="348.40" y1="321.5" x2="348.40" y2="324.5" stroke="#231f20" stroke-width="1.25"/><text x="352.30" y="332.00" text-anchor="end" textLength="8.86" lengthAdjust="spacingAndGlyphs" transform="rotate(-45 352.30 332.00)">10</text><line x1="368.90" y1="321.5" x2="368.90" y2="324.5" stroke="#231f20" stroke-width="1.25"/><text x="372.80" y="332.00" text-anchor="end" textLength="8.86" lengthAdjust="spacingAndGlyphs" transform="rotate(-45 372.80 332.00)">15</text><line x1="389.40" y1="321.5" x2="389.40" y2="324.5" stroke="#231f20" stroke-width="1.25"/><text x="393.30" y="332.00" text-anchor="end" textLength="8.86" lengthAdjust="spacingAndGlyphs" transform="rotate(-45 393.30 332.00)">20</text><line x1="409.90" y1="321.5" x2="409.90" y2="324.5" stroke="#231f20" stroke-width="1.25"/><text x="413.80" y="332.00" text-anchor="end" textLength="8.86" lengthAdjust="spacingAndGlyphs" transform="rotate(-45 413.80 332.00)">25</text><line x1="430.40" y1="321.5" x2="430.40" y2="324.5" stroke="#231f20" stroke-width="1.25"/><text x="434.30" y="332.00" text-anchor="end" textLength="8.86" lengthAdjust="spacingAndGlyphs" transform="rotate(-45 434.30 332.00)">30</text><line x1="450.90" y1="321.5" x2="450.90" y2="324.5" stroke="#231f20" stroke-width="1.25"/><text x="454.80" y="332.00" text-anchor="end" textLength="8.86" lengthAdjust="spacingAndGlyphs" transform="rotate(-45 454.80 332.00)">35</text><line x1="471.40" y1="321.5" x2="471.40" y2="324.5" stroke="#231f20" stroke-width="1.25"/><text x="475.30" y="332.00" text-anchor="end" textLength="8.86" lengthAdjust="spacingAndGlyphs" transform="rotate(-45 475.30 332.00)">40</text><line x1="485.00" y1="321.5" x2="485.00" y2="324.5" stroke="#231f20" stroke-width="1.25"/><text x="488.90" y="332.00" text-anchor="end" textLength="13.29" lengthAdjust="spacingAndGlyphs" transform="rotate(-45 488.90 332.00)">100</text><line x1="496.40" y1="321.5" x2="496.40" y2="324.5" stroke="#231f20" stroke-width="1.25"/><text x="500.30" y="332.00" text-anchor="end" textLength="13.29" lengthAdjust="spacingAndGlyphs" transform="rotate(-45 500.30 332.00)">200</text>
</g>
<text x="82" y="163.9" font-family="Liberation Sans" font-size="9.8" fill="#231f20" stroke="#231f20" stroke-width="0.15" text-rendering="geometricPrecision" textLength="129" lengthAdjust="spacingAndGlyphs">Neutrophil engraftment (days)</text>
<text x="344.8" y="165.9" font-family="Liberation Sans" font-size="9.8" fill="#231f20" stroke="#231f20" stroke-width="0.15" text-rendering="geometricPrecision" textLength="128.5" lengthAdjust="spacingAndGlyphs">Neutrophil engraftment (days)</text>
<text x="87" y="355.2" font-family="Liberation Sans" font-size="9.8" fill="#231f20" stroke="#231f20" stroke-width="0.15" text-rendering="geometricPrecision" textLength="115" lengthAdjust="spacingAndGlyphs">Platelet engraftment (days)</text>
<text x="346.3" y="355.4" font-family="Liberation Sans" font-size="9.8" fill="#231f20" stroke="#231f20" stroke-width="0.15" text-rendering="geometricPrecision" textLength="114.5" lengthAdjust="spacingAndGlyphs">Platelet engraftment (days)</text>
<g transform="translate(16.6,123.8) rotate(-90)" font-family="Liberation Sans" fill="#231f20" stroke="#231f20" stroke-width="0.15"><text x="0" y="0" font-size="10" text-rendering="geometricPrecision" lengthAdjust="spacingAndGlyphs" textLength="67.0">Pre-HCT AUC (U</text><text x="67.10" y="1.9" font-size="6.2" text-rendering="geometricPrecision" lengthAdjust="spacingAndGlyphs" textLength="3.2">E</text><text x="72.6" y="0" font-size="10" text-rendering="geometricPrecision" lengthAdjust="spacingAndGlyphs" textLength="24.30">*hr/L)</text></g>
<g transform="translate(274.1,125.4) rotate(-90)" font-family="Liberation Sans" fill="#231f20" stroke="#231f20" stroke-width="0.15"><text x="0" y="0" font-size="10" text-rendering="geometricPrecision" lengthAdjust="spacingAndGlyphs" textLength="70.5">Post-HCT AUC (U</text><text x="70.60" y="1.9" font-size="6.2" text-rendering="geometricPrecision" lengthAdjust="spacingAndGlyphs" textLength="3.2">E</text><text x="76.2" y="0" font-size="10" text-rendering="geometricPrecision" lengthAdjust="spacingAndGlyphs" textLength="23.80">*hr/L)</text></g>
<g transform="translate(18.0,301.2) rotate(-90)" font-family="Liberation Sans" fill="#231f20" stroke="#231f20" stroke-width="0.15"><text x="0" y="0" font-size="10" text-rendering="geometricPrecision" lengthAdjust="spacingAndGlyphs" textLength="67.0">Pre-HCT AUC (U</text><text x="67.10" y="1.9" font-size="6.2" text-rendering="geometricPrecision" lengthAdjust="spacingAndGlyphs" textLength="3.2">E</text><text x="72.6" y="0" font-size="10" text-rendering="geometricPrecision" lengthAdjust="spacingAndGlyphs" textLength="24.30">*hr/L)</text></g>
<g transform="translate(273.9,305.6) rotate(-90)" font-family="Liberation Sans" fill="#231f20" stroke="#231f20" stroke-width="0.15"><text x="0" y="0" font-size="10" text-rendering="geometricPrecision" lengthAdjust="spacingAndGlyphs" textLength="70.5">Post-HCT AUC (U</text><text x="70.60" y="1.9" font-size="6.2" text-rendering="geometricPrecision" lengthAdjust="spacingAndGlyphs" textLength="3.2">E</text><text x="76.2" y="0" font-size="10" text-rendering="geometricPrecision" lengthAdjust="spacingAndGlyphs" textLength="23.80">*hr/L)</text></g>
<rect x="518" y="0" width="1" height="365" fill="#c4c4c4"/>
<rect x="519" y="0" width="1" height="365" fill="#4e4e4e"/>
<rect x="0" y="0" width="519" height="1" fill="#000"/>
<rect x="0" y="0" width="1" height="365" fill="#000"/>
<rect x="0" y="364" width="519" height="1" fill="#000"/>
</svg></body></html>
